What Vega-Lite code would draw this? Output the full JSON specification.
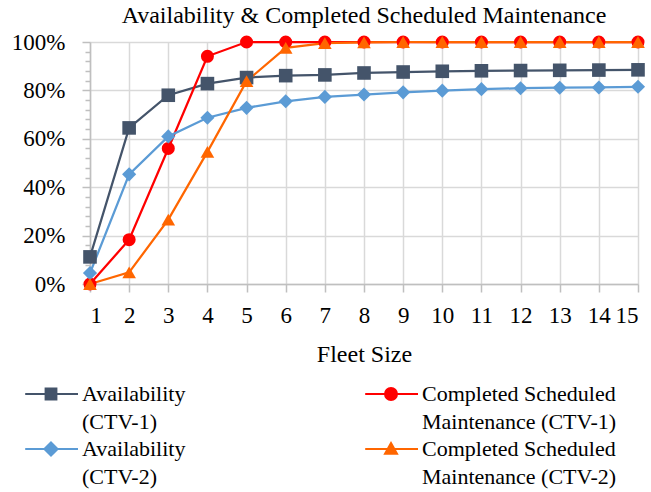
{
  "$schema": "https://vega.github.io/schema/vega-lite/v6.json",
  "width": 548,
  "height": 242,
  "autosize": {"type": "none"},
  "padding": {"left": 90, "top": 42, "right": 13, "bottom": 208},
  "background": "white",
  "title": {
    "text": "Availability & Completed Scheduled Maintenance",
    "font": "'Liberation Serif', 'Times New Roman', serif",
    "fontSize": 24,
    "fontWeight": "normal",
    "color": "black",
    "anchor": "middle",
    "offset": 3
  },
  "data": {
    "values": [
      {"fleet": 1, "Availability (CTV-1)": 0.112, "Completed Scheduled Maintenance (CTV-1)": 0.0, "Availability (CTV-2)": 0.045, "Completed Scheduled Maintenance (CTV-2)": 0.0},
      {"fleet": 2, "Availability (CTV-1)": 0.645, "Completed Scheduled Maintenance (CTV-1)": 0.183, "Availability (CTV-2)": 0.453, "Completed Scheduled Maintenance (CTV-2)": 0.048},
      {"fleet": 3, "Availability (CTV-1)": 0.78, "Completed Scheduled Maintenance (CTV-1)": 0.56, "Availability (CTV-2)": 0.61, "Completed Scheduled Maintenance (CTV-2)": 0.266},
      {"fleet": 4, "Availability (CTV-1)": 0.828, "Completed Scheduled Maintenance (CTV-1)": 0.941, "Availability (CTV-2)": 0.687, "Completed Scheduled Maintenance (CTV-2)": 0.546},
      {"fleet": 5, "Availability (CTV-1)": 0.853, "Completed Scheduled Maintenance (CTV-1)": 1.0, "Availability (CTV-2)": 0.728, "Completed Scheduled Maintenance (CTV-2)": 0.838},
      {"fleet": 6, "Availability (CTV-1)": 0.861, "Completed Scheduled Maintenance (CTV-1)": 1.0, "Availability (CTV-2)": 0.755, "Completed Scheduled Maintenance (CTV-2)": 0.976},
      {"fleet": 7, "Availability (CTV-1)": 0.864, "Completed Scheduled Maintenance (CTV-1)": 1.0, "Availability (CTV-2)": 0.773, "Completed Scheduled Maintenance (CTV-2)": 0.995},
      {"fleet": 8, "Availability (CTV-1)": 0.872, "Completed Scheduled Maintenance (CTV-1)": 1.0, "Availability (CTV-2)": 0.783, "Completed Scheduled Maintenance (CTV-2)": 0.998},
      {"fleet": 9, "Availability (CTV-1)": 0.876, "Completed Scheduled Maintenance (CTV-1)": 1.0, "Availability (CTV-2)": 0.792, "Completed Scheduled Maintenance (CTV-2)": 1.0},
      {"fleet": 10, "Availability (CTV-1)": 0.879, "Completed Scheduled Maintenance (CTV-1)": 1.0, "Availability (CTV-2)": 0.799, "Completed Scheduled Maintenance (CTV-2)": 1.0},
      {"fleet": 11, "Availability (CTV-1)": 0.881, "Completed Scheduled Maintenance (CTV-1)": 1.0, "Availability (CTV-2)": 0.805, "Completed Scheduled Maintenance (CTV-2)": 1.0},
      {"fleet": 12, "Availability (CTV-1)": 0.882, "Completed Scheduled Maintenance (CTV-1)": 1.0, "Availability (CTV-2)": 0.809, "Completed Scheduled Maintenance (CTV-2)": 1.0},
      {"fleet": 13, "Availability (CTV-1)": 0.883, "Completed Scheduled Maintenance (CTV-1)": 1.0, "Availability (CTV-2)": 0.811, "Completed Scheduled Maintenance (CTV-2)": 1.0},
      {"fleet": 14, "Availability (CTV-1)": 0.884, "Completed Scheduled Maintenance (CTV-1)": 1.0, "Availability (CTV-2)": 0.812, "Completed Scheduled Maintenance (CTV-2)": 1.0},
      {"fleet": 15, "Availability (CTV-1)": 0.885, "Completed Scheduled Maintenance (CTV-1)": 1.0, "Availability (CTV-2)": 0.815, "Completed Scheduled Maintenance (CTV-2)": 1.0}
    ]
  },
  "transform": [
    {"fold": ["Availability (CTV-1)", "Completed Scheduled Maintenance (CTV-1)", "Availability (CTV-2)", "Completed Scheduled Maintenance (CTV-2)"], "as": ["series", "value"]}
  ],
  "encoding": {
    "x": {
      "field": "fleet",
      "type": "quantitative",
      "title": "Fleet Size",
      "scale": {"domain": [1, 15], "nice": false, "zero": false},
      "axis": {
        "values": [1, 2, 3, 4, 5, 6, 7, 8, 9, 10, 11, 12, 13, 14, 15],
        "tickSize": 8,
        "labelPadding": 12,
        "titlePadding": 15
      }
    },
    "y": {
      "field": "value",
      "type": "quantitative",
      "title": null,
      "scale": {"domain": [0, 1], "nice": false},
      "axis": {
        "values": [0, 0.04, 0.08, 0.12, 0.16, 0.2, 0.24, 0.28, 0.32, 0.36, 0.4, 0.44, 0.48, 0.52, 0.56, 0.6, 0.64, 0.68, 0.72, 0.76, 0.8, 0.84, 0.88, 0.92, 0.96, 1],
        "format": ".0%",
        "labelExpr": "round(datum.value * 100) % 20 == 0 ? datum.label : ''",
        "tickSize": {"condition": {"test": "round(datum.value * 100) % 20 == 0", "value": 8}, "value": 5},
        "gridOpacity": {"condition": {"test": "round(datum.value * 100) % 20 == 0", "value": 1}, "value": 0},
        "labelPadding": 17
      }
    },
    "color": {
      "field": "series",
      "type": "nominal",
      "sort": null,
      "scale": {
        "domain": ["Availability (CTV-1)", "Completed Scheduled Maintenance (CTV-1)", "Availability (CTV-2)", "Completed Scheduled Maintenance (CTV-2)"],
        "range": ["#44546A", "#FF0000", "#5B9BD5", "#FF6600"]
      },
      "legend": {
        "title": null,
        "orient": "none",
        "direction": "horizontal",
        "legendX": -50,
        "legendY": 341,
        "columns": 2,
        "columnPadding": 175,
        "rowPadding": 5,
        "symbolSize": 144,
        "symbolStrokeWidth": 2,
        "labelOffset": 20,
        "labelLimit": 300,
        "labelFontSize": 22,
        "labelExpr": "indexof(datum.label, 'Completed') == 0 ? ['Completed Scheduled', slice(datum.label, 20)] : ['Availability', slice(datum.label, 13)]",
        "encode": {
          "symbols": {
            "update": {
              "fill": {"scale": "color", "field": "value"},
              "stroke": {"scale": "color", "field": "value"},
              "fillOpacity": {"value": 1},
              "strokeOpacity": {"value": 1},
              "shape": {"signal": "datum.value == 'Availability (CTV-1)' ? 'M-4.3,0H4.5M-0.9,-0.9H0.9V0.9H-0.9Z' : datum.value == 'Availability (CTV-2)' ? 'M-4.3,0H4.5M0,-1.1L1.1,0L0,1.1L-1.1,0Z' : datum.value == 'Completed Scheduled Maintenance (CTV-1)' ? 'M-4.3,0H4.5M-1,0A1,1 0 1,1 1,0A1,1 0 1,1 -1,0Z' : 'M-4.3,0H4.5M0,-1L1,0.8H-1Z'"}
            }
          },
          "labels": {
            "update": {
              "lineHeight": {"value": 28}
            }
          }
        }
      }
    }
  },
  "layer": [
    {
      "mark": {"type": "line", "strokeWidth": 2.25}
    },
    {
      "transform": [{"filter": {"field": "series", "equal": "Availability (CTV-1)"}}],
      "mark": {"type": "point", "filled": true, "opacity": 1, "size": 185, "shape": "square"}
    },
    {
      "transform": [{"filter": {"field": "series", "equal": "Completed Scheduled Maintenance (CTV-1)"}}],
      "mark": {"type": "point", "filled": true, "opacity": 1, "size": 170, "shape": "circle"}
    },
    {
      "transform": [{"filter": {"field": "series", "equal": "Availability (CTV-2)"}}],
      "mark": {"type": "point", "filled": true, "opacity": 1, "size": 200, "shape": "diamond"}
    },
    {
      "transform": [{"filter": {"field": "series", "equal": "Completed Scheduled Maintenance (CTV-2)"}}],
      "mark": {"type": "point", "filled": true, "opacity": 1, "size": 185, "shape": "triangle-up"}
    }
  ],
  "config": {
    "font": "'Liberation Serif', 'Times New Roman', serif",
    "view": {"stroke": null},
    "axis": {
      "labelFont": "'Liberation Serif', 'Times New Roman', serif",
      "labelFontSize": 23,
      "labelColor": "black",
      "titleFont": "'Liberation Serif', 'Times New Roman', serif",
      "titleFontSize": 24,
      "titleFontWeight": "normal",
      "titleColor": "black",
      "gridColor": "#D9D9D9",
      "gridWidth": 1.5,
      "domainColor": "#BFBFBF",
      "domainWidth": 1.5,
      "tickColor": "#BFBFBF",
      "tickWidth": 1.5
    },
    "legend": {
      "labelFont": "'Liberation Serif', 'Times New Roman', serif",
      "labelColor": "black"
    }
  }
}
